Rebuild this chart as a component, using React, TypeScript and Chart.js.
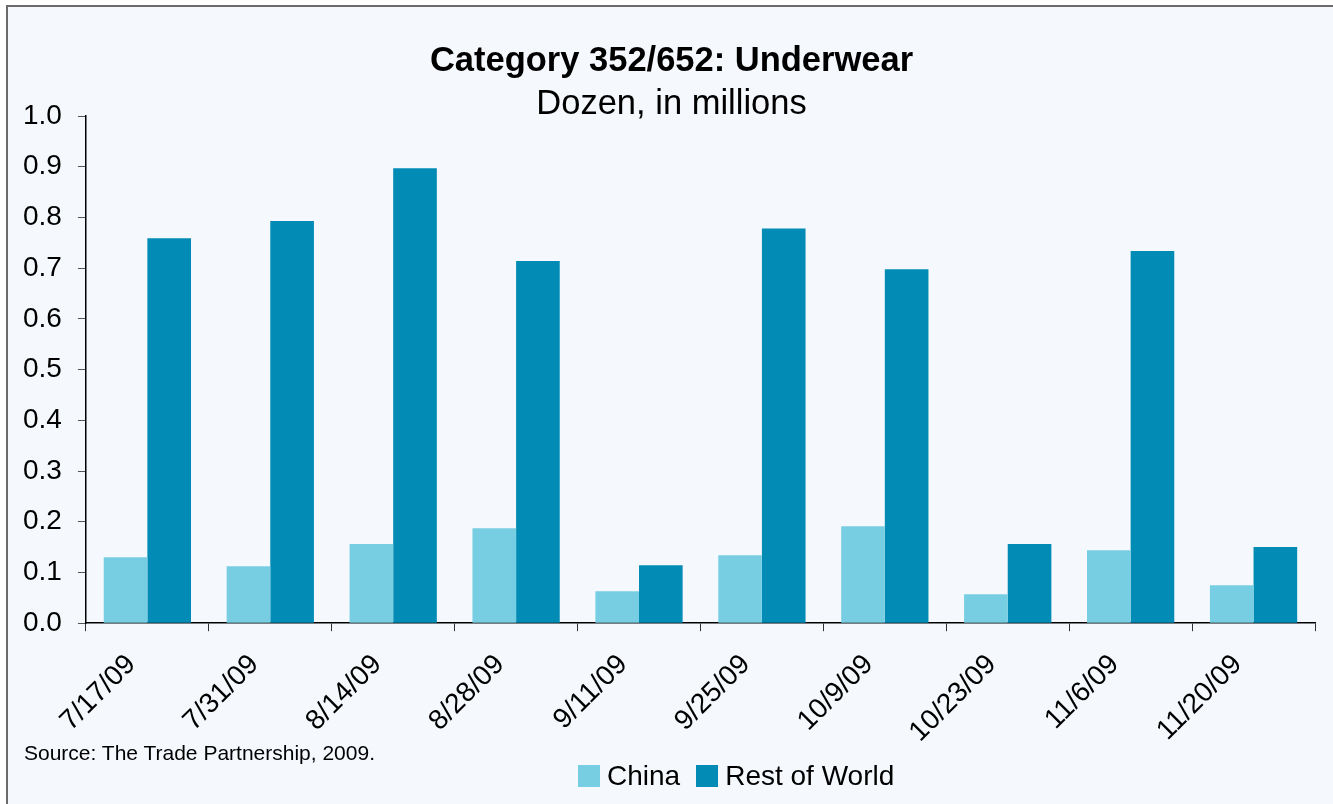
import React, { useEffect, useRef } from "react";
import { Chart, registerables } from "chart.js";

Chart.register(...registerables);

const categories = ["7/17/09", "7/31/09", "8/14/09", "8/28/09", "9/11/09", "9/25/09", "10/9/09", "10/23/09", "11/6/09", "11/20/09"];
const chinaValues = [0.130, 0.112, 0.156, 0.187, 0.063, 0.134, 0.191, 0.057, 0.144, 0.075];
const restOfWorldValues = [0.759, 0.793, 0.897, 0.714, 0.114, 0.778, 0.698, 0.156, 0.734, 0.150];
const yTicks = [0, 0.1, 0.2, 0.3, 0.4, 0.5, 0.6, 0.7, 0.8, 0.9, 1.0];

const seriesNames = ["China", "Rest of World"];
const seriesColors = ["#77CDE2", "#018BB5"];

const titleText = "Category 352/652: Underwear";
const subtitleText = "Dozen, in millions";
const sourceText = "Source: The Trade Partnership, 2009.";

const FONT = "'Liberation Sans', Arial, sans-serif";

const titlePlugin = {
  id: "customTitles",
  afterDraw(chart: any) {
    const ctx = chart.ctx;
    ctx.save();
    ctx.fillStyle = "#000";
    ctx.textAlign = "center";
    ctx.textBaseline = "middle";
    ctx.font = `bold 34.5px ${FONT}`;
    ctx.fillText(titleText, chart.width / 2 + 5, 61);
    ctx.font = `34.5px ${FONT}`;
    ctx.fillText(subtitleText, chart.width / 2 + 5, 104);
    ctx.restore();
  },
};

export default function App() {
  const ref = useRef<HTMLCanvasElement | null>(null);
  useEffect(() => {
    document.body.style.margin = "0";
    if (!ref.current) return;
    const chart = new Chart(ref.current, {
      type: "bar",
      data: {
        labels: categories,
        datasets: [
          { label: seriesNames[0], data: chinaValues, backgroundColor: seriesColors[0], borderWidth: 0 },
          { label: seriesNames[1], data: restOfWorldValues, backgroundColor: seriesColors[1], borderWidth: 0 },
        ],
      },
      options: {
        responsive: false,
        animation: false,
        devicePixelRatio: 1,
        layout: { padding: { top: 116, left: 7, right: 18, bottom: 38 } },
        datasets: { bar: { categoryPercentage: 0.71, barPercentage: 1.0 } } as any,
        plugins: {
          title: { display: false },
          tooltip: { enabled: false },
          legend: { display: false },
        },
        scales: {
          x: {
            offset: true,
            border: { color: "#000", width: 1.5 },
            grid: { display: true, drawOnChartArea: false, tickLength: 8, color: "#333", offset: true },
            ticks: {
              color: "#000",
              font: { family: FONT, size: 28 },
              maxRotation: 45,
              minRotation: 45,
              padding: 17,
              labelOffset: -16,
            },
          },
          y: {
            min: 0,
            max: 1,
            afterBuildTicks: (axis: any) => {
              axis.ticks = yTicks.map((v) => ({ value: v }));
            },
            border: { color: "#000", width: 1.5 },
            grid: { display: true, drawOnChartArea: false, tickLength: 8, color: "#555" },
            ticks: {
              color: "#000",
              font: { family: FONT, size: 28 },
              padding: 16,
              callback: (v: any) => Number(v).toFixed(1),
            },
          },
        },
      },
      plugins: [titlePlugin],
    });
    return () => chart.destroy();
  }, []);

  return (
    <div style={{ position: "relative", width: 1333, height: 804, background: "#fff", overflow: "hidden" }}>
      <div
        style={{
          position: "absolute",
          left: 6,
          top: 5,
          width: 1400,
          height: 900,
          border: "2px solid #6b6b6b",
          background: "#F5F9FE",
        }}
      />
      <canvas ref={ref} width={1333} height={804} style={{ position: "absolute", left: 0, top: 0, width: 1333, height: 804 }} />
      <div
        style={{
          position: "absolute",
          left: 24,
          top: 742,
          fontFamily: FONT,
          fontSize: 21,
          lineHeight: 1,
          color: "#000",
          whiteSpace: "nowrap",
        }}
      >
        {sourceText}
      </div>
      <div
        style={{
          position: "absolute",
          left: 578,
          top: 762,
          display: "flex",
          alignItems: "flex-start",
          fontFamily: FONT,
          fontSize: 28,
          lineHeight: 1,
          color: "#000",
          whiteSpace: "nowrap",
        }}
      >
        {seriesNames.map((name, i) => (
          <div key={name} style={{ display: "flex", alignItems: "flex-start", marginRight: 16 }}>
            <div style={{ width: 22, height: 22, marginTop: 3, marginRight: 7, background: seriesColors[i] }} />
            <span>{name}</span>
          </div>
        ))}
      </div>
    </div>
  );
}
